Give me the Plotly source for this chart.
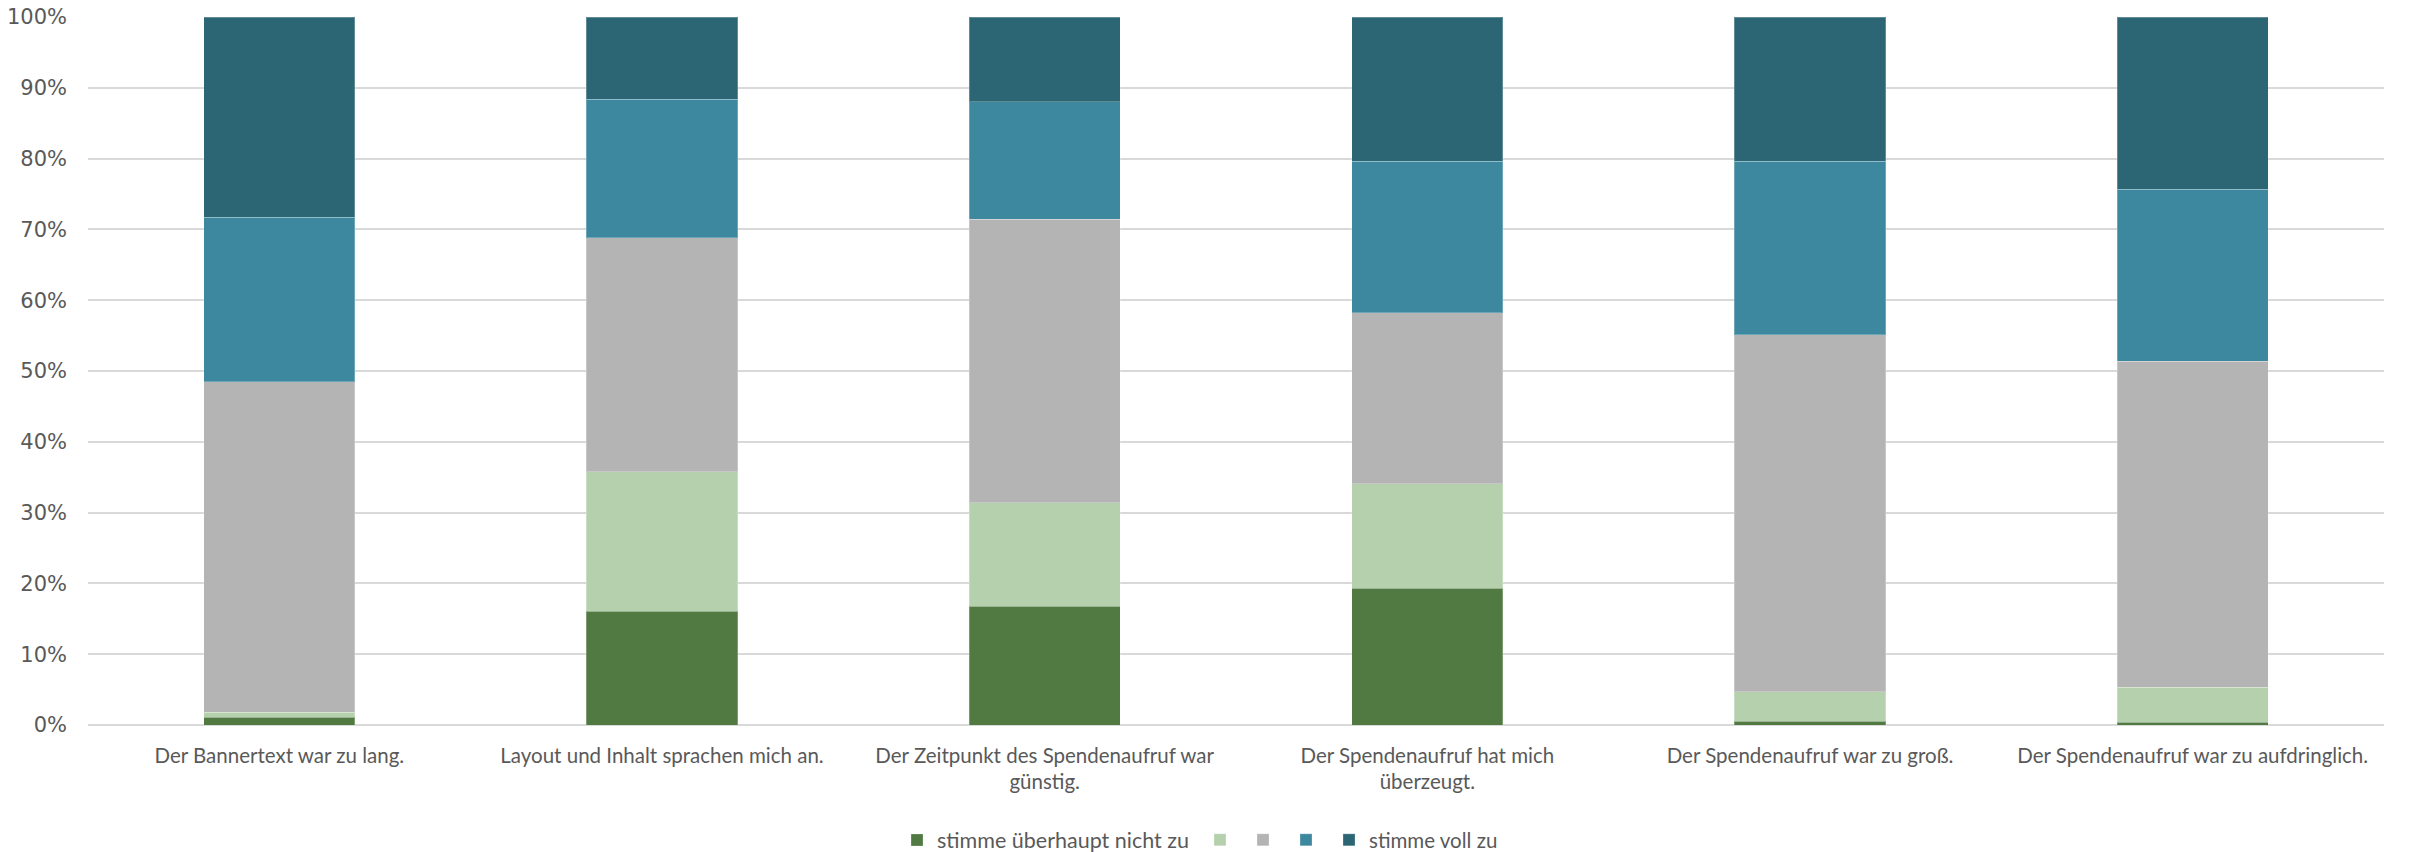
import plotly.graph_objects as go

# Statements (x categories) and response shares in percent
categories = [
    "Der Bannertext war zu lang.",
    "Layout und Inhalt sprachen mich an.",
    "Der Zeitpunkt des Spendenaufruf war<br>günstig.",
    "Der Spendenaufruf hat mich<br>überzeugt.",
    "Der Spendenaufruf war zu groß.",
    "Der Spendenaufruf war zu aufdringlich.",
]

stimme_ueberhaupt_nicht_zu = [1.1, 16.1, 16.8, 19.3, 0.5, 0.4]
stufe_2 = [0.7, 19.7, 14.6, 14.8, 4.2, 4.9]
stufe_3 = [46.7, 33.0, 40.0, 24.1, 50.4, 46.1]
stufe_4 = [23.2, 19.6, 16.6, 21.4, 24.5, 24.3]
stimme_voll_zu = [28.3, 11.6, 12.0, 20.4, 20.4, 24.3]

series_names = ["stimme überhaupt nicht zu", " ", " ", " ", "stimme voll zu"]
series_values = [stimme_ueberhaupt_nicht_zu, stufe_2, stufe_3, stufe_4, stimme_voll_zu]
series_colors = ["#507A42", "#B4D0AC", "#B4B4B4", "#3D889F", "#2C6675"]

y_ticks = [0, 10, 20, 30, 40, 50, 60, 70, 80, 90, 100]
y_tick_labels = [f"{v}%" for v in y_ticks]

# pixel geometry of the plotting area
W, H = 2420, 852
M_L, M_R, M_T, M_B = 88, 36, 17, 127
plot_w = W - M_L - M_R
plot_h = H - M_T - M_B

# each legend entry gets its own legend box so the spacing can be set per item
legend_ids = ["legend", "legend2", "legend3", "legend4", "legend5"]
legend_px = [897, 1200, 1243, 1286, 1329]  # left edge of each legend box
legend_sizes = [21.5, 22, 22, 22, 20.5]

fig = go.Figure()
for name, vals, color, lid in zip(series_names, series_values, series_colors, legend_ids):
    fig.add_trace(go.Bar(
        x=categories,
        y=vals,
        name=name,
        legend=lid,
        marker=dict(color=color, line=dict(color="rgba(255,255,255,0.25)", width=1)),
        hoverinfo="x+y",
    ))

label_font = dict(family="Lato, 'Open Sans', sans-serif", size=20.5, color="#595959")

legend_y = -(840 - (H - M_B)) / plot_h
legend_layouts = {}
for lid, px, fs in zip(legend_ids, legend_px, legend_sizes):
    legend_layouts[lid] = dict(
        orientation="h",
        x=(px - M_L) / plot_w,
        xanchor="left",
        y=legend_y,
        yanchor="middle",
        font=dict(family="Lato, 'Open Sans', sans-serif", size=fs, color="#595959"),
        itemwidth=30,
        bgcolor="rgba(0,0,0,0)",
    )

fig.update_layout(
    barmode="stack",
    barnorm="percent",
    bargap=0.605,
    width=W,
    height=H,
    margin=dict(l=M_L, r=M_R, t=M_T, b=M_B, autoexpand=False),
    paper_bgcolor="white",
    plot_bgcolor="white",
    font=label_font,
    showlegend=True,
    xaxis=dict(
        showgrid=False,
        showline=False,
        zeroline=False,
        ticks="",
        tickfont=label_font,
        ticklabelstandoff=16,
        automargin=False,
    ),
    yaxis=dict(
        range=[0, 100],
        tickvals=y_ticks,
        ticktext=y_tick_labels,
        showgrid=True,
        gridcolor="#D9D9D9",
        gridwidth=1.5,
        zeroline=True,
        zerolinecolor="#D9D9D9",
        zerolinewidth=1.5,
        showline=False,
        ticks="",
        tickfont=dict(family="DejaVu Sans, Verdana, sans-serif", size=21, color="#595959"),
        ticklabelstandoff=20,
        automargin=False,
    ),
    **legend_layouts,
)

fig.write_html("out.html")
